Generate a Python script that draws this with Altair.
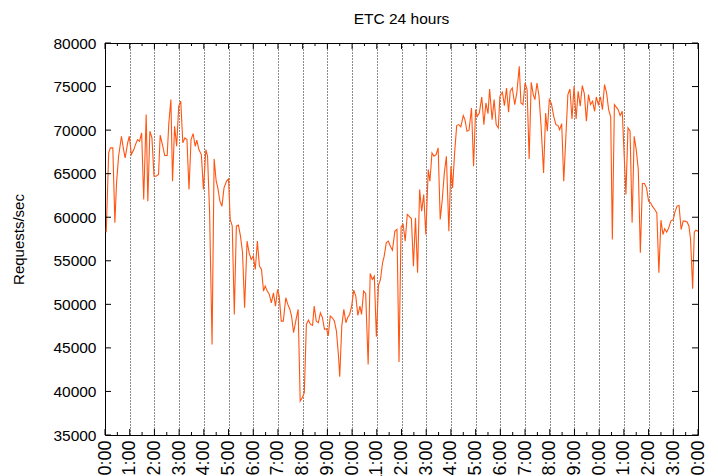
import altair as alt
import pandas as pd

# time of each sample (minutes after 0:00) and requests/sec
minutes = [
    3, 9, 13, 19, 24, 28, 33, 40, 45, 49, 55, 59, 64, 70, 74, 79, 84, 89, 94, 100,
    104, 109, 114, 119, 124, 130, 134, 140, 145, 151, 155, 160, 164, 169, 174, 179, 184, 189, 194, 199,
    204, 209, 214, 219, 223, 228, 234, 239, 245, 249, 254, 260, 265, 270, 274, 279, 284, 289, 295, 300,
    304, 309, 314, 319, 324, 329, 334, 339, 345, 350, 355, 360, 365, 370, 375, 380, 385, 389, 394, 399,
    404, 409, 414, 419, 423, 428, 433, 439, 444, 449, 453, 458, 464, 469, 474,
    479, 484, 489, 494, 499, 504, 508, 513, 518, 523, 528, 533, 538, 542, 547, 552, 557, 562, 567, 570,
    575, 580, 585, 589, 594, 599, 604, 609, 614, 619, 623, 628, 633, 639, 644, 649, 654, 659, 664, 669,
    674, 678, 683, 688, 693, 698, 704, 709, 714, 719, 724, 729, 734, 738, 744, 749, 754, 759, 764, 769,
    774, 779, 785, 789, 794, 799, 804, 809, 814, 819, 824, 829, 835, 840, 844, 849, 854, 859, 864, 870,
    874, 879, 884, 890, 895, 900, 904, 909, 915, 920, 925, 930, 934, 940, 945, 950, 955, 959,
    965, 970, 975, 980, 984, 989, 995, 1000, 1006, 1010, 1015, 1020, 1025, 1030, 1035, 1040, 1044, 1049, 1054, 1059,
    1065, 1070, 1074, 1079, 1084, 1090, 1095, 1100, 1104, 1109, 1114, 1119, 1124, 1129, 1134, 1139, 1144, 1149, 1154, 1159,
    1164, 1169, 1174, 1179, 1184, 1189, 1193, 1198, 1203, 1208, 1213, 1218, 1223, 1228, 1232, 1237, 1241, 1246, 1251, 1256,
    1265, 1270, 1275, 1280, 1285, 1290, 1295, 1300, 1305, 1310, 1315, 1320, 1325, 1329, 1335, 1340, 1345, 1350, 1355, 1359,
    1364, 1369, 1374, 1380, 1384, 1389, 1394, 1399, 1404, 1409, 1414, 1418, 1422, 1427, 1431, 1435, 1440,
]
requests = [
    58285, 67384, 67957, 67957, 59355, 63943, 67001, 69295, 67766, 66810, 68531, 69295, 67193, 67766, 68340, 68913, 68722, 69678, 62032, 71780,
    61840, 69869, 69104, 64708, 64708, 64899, 69410, 68225, 67078, 67078, 70824, 73501, 64134, 70442, 68148, 72736, 73309, 68531, 69104, 68913,
    63178, 68913, 69601, 68148, 68837, 67766, 67193, 63178, 67766, 67001, 60502, 45402, 66696, 64134, 63370, 61840, 61267, 63370, 64134, 64402,
    59738, 58973, 48842, 58973, 59088, 57826, 55915, 49607, 57253, 55915, 55150, 55532, 54003, 57253, 54386, 54003, 51518, 52092, 51518, 51136,
    50180, 51327, 49798, 51709, 50945, 48078, 48078, 50754, 49989, 49416, 48651, 46740, 48269, 49416, 38902,
    39285, 39858, 47695, 48192, 47695, 47581, 49798, 48078, 47886, 49033, 48460, 47122, 47198, 46357, 48651, 48460, 48078, 46931, 44063, 41693,
    47504, 49416, 47886, 48460, 48842, 49798, 51633, 50945, 48728, 49798, 48842, 51518, 51251, 43108, 53545, 52856, 53239, 46281, 52168, 52856,
    54768, 55532, 57062, 57253, 56679, 56221, 58400, 58591, 43375, 58897, 59164, 57253, 60311, 60120, 59852, 54386, 59929, 53621, 63178, 60694,
    62605, 58017, 65472, 64134, 67384, 67001, 67193, 67957, 59738, 62032, 65090, 67001, 58400, 65855, 63370, 67384, 70519, 70633, 70366, 71666,
    71207, 69869, 69983, 72545, 65855, 72354, 71589, 71971, 73806, 70633, 73118, 71895, 74724, 71207, 73501, 70633, 70251, 73883,
    74342, 72812, 74839, 72048, 74456, 74839, 72927, 74265, 77324, 73118, 72927, 75412, 74647, 66696, 75489, 74074, 73501, 75412, 73883, 70442,
    65090, 71971, 69869, 73501, 73042, 71513, 70633, 70519, 70060, 70748, 64134, 69104, 74074, 74724, 71283, 75030, 71283, 74456, 72736, 75106,
    74189, 71016, 74074, 72927, 73309, 72163, 73806, 72927, 73806, 72354, 75221, 74265, 72354, 71513, 57444, 72927, 72660, 72354, 71666, 72163,
    62605, 70251, 69869, 59355, 69295, 67766, 65472, 55915, 63867, 63867, 63370, 61840, 61649, 61267, 60885, 60502, 53621, 59661, 58017, 58667,
    58285, 58782, 59547, 59738, 60579, 61267, 61343, 58591, 59547, 59547, 59432, 58973, 57444, 51786, 58285, 58514, 58400,
]

hour_ticks = list(range(0, 25))
half_hour_ticks = [h + 0.5 for h in range(24)]
y_ticks = list(range(35000, 80001, 5000))

df = pd.DataFrame({"hour": [m / 60 for m in minutes], "req": requests})
major_x = pd.DataFrame({"t": hour_ticks})
minor_x = pd.DataFrame({"t": half_hour_ticks})
major_y = pd.DataFrame({"v": y_ticks})

W, H = 593, 392
FONT = "Liberation Sans"
TICK = 6
MINOR = 3
xs = alt.Scale(domain=[0, 24], nice=False, zero=False)
ys = alt.Scale(domain=[35000, 80000], nice=False, zero=False)

line = alt.Chart(df).mark_line(color="#ff5511", strokeWidth=1.1).encode(
    x=alt.X(
        "hour:Q", scale=xs,
        axis=alt.Axis(
            orient="bottom", values=hour_ticks,
            labelExpr="(datum.value % 24) + ':00'",
            labelAngle=-90, labelFontSize=18, labelPadding=5,
            labelOverlap=False, labelFlush=False,
            ticks=False, domain=False, grid=True,
            gridDash=[1, 2], gridColor="#000000", gridWidth=1, gridOpacity=0.9,
            title="",
        ),
    ),
    y=alt.Y(
        "req:Q", scale=ys,
        axis=alt.Axis(
            orient="left", values=y_ticks, format="d",
            labelFontSize=15.5, labelPadding=9, labelFlush=False, labelOverlap=False,
            ticks=False, domain=False, grid=False,
            title="Requests/sec", titleFontSize=15, titleFontWeight="normal",
            titlePadding=26,
        ),
    ),
)

tick_style = dict(color="#000000", strokeWidth=1)

x_bottom_major = alt.Chart(major_x).mark_rule(**tick_style).encode(
    x=alt.X("t:Q", scale=xs, axis=None), y=alt.value(H), y2=alt.value(H - TICK))
x_top_major = alt.Chart(major_x).mark_rule(**tick_style).encode(
    x=alt.X("t:Q", scale=xs, axis=None), y=alt.value(0), y2=alt.value(TICK))
x_bottom_minor = alt.Chart(minor_x).mark_rule(**tick_style).encode(
    x=alt.X("t:Q", scale=xs, axis=None), y=alt.value(H), y2=alt.value(H - MINOR))
x_top_minor = alt.Chart(minor_x).mark_rule(**tick_style).encode(
    x=alt.X("t:Q", scale=xs, axis=None), y=alt.value(0), y2=alt.value(MINOR))
y_left = alt.Chart(major_y).mark_rule(**tick_style).encode(
    y=alt.Y("v:Q", scale=ys, axis=None), x=alt.value(0), x2=alt.value(TICK))
y_right = alt.Chart(major_y).mark_rule(**tick_style).encode(
    y=alt.Y("v:Q", scale=ys, axis=None), x=alt.value(W), x2=alt.value(W - TICK))

chart = (
    alt.layer(line, x_bottom_major, x_top_major, x_bottom_minor, x_top_minor, y_left, y_right)
    .resolve_axis(x="independent", y="independent")
    .properties(
        width=W, height=H,
        autosize=alt.AutoSizeParams(type="none"),
        padding={"left": 97, "top": 35, "right": 12, "bottom": 41},
        title=alt.TitleParams(
            "ETC 24 hours", fontSize=15.5, fontWeight="normal", font=FONT,
            offset=9, color="#000000",
        ),
    )
    .configure_view(stroke="#000000", strokeWidth=1)
    .configure_axis(labelFont=FONT, titleFont=FONT, labelColor="#000000", titleColor="#000000")
)

chart.save("out.html", embed_options={"renderer": "svg", "actions": False})
